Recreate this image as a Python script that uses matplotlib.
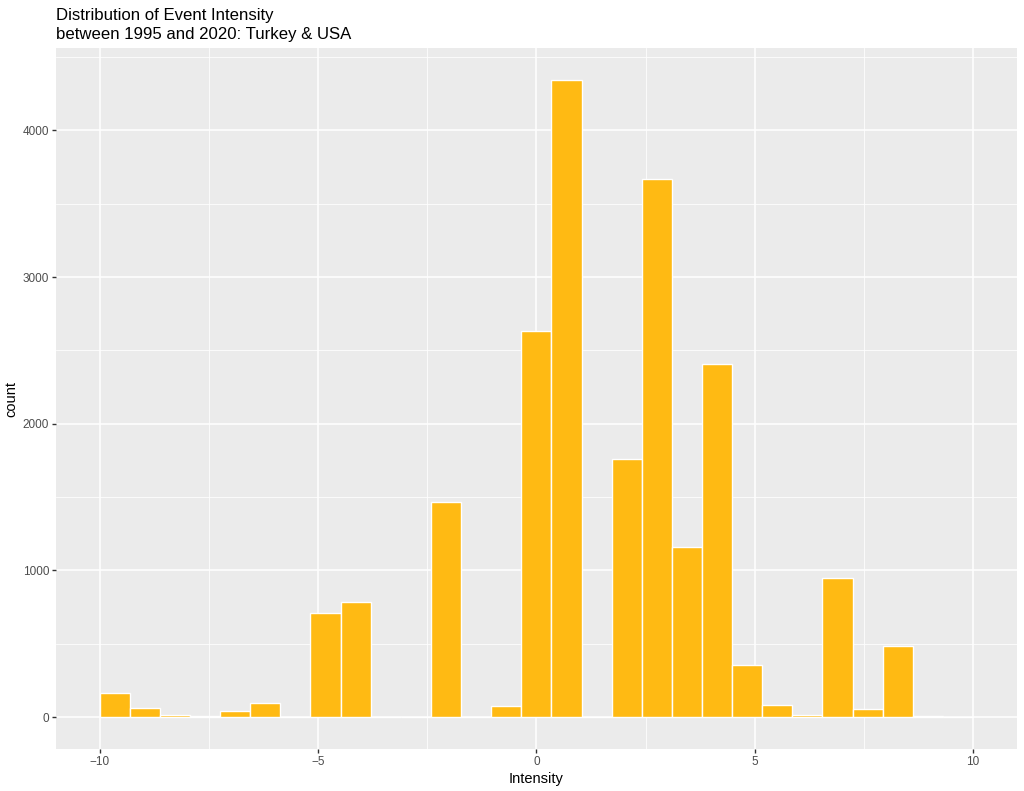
import numpy as np
import matplotlib
matplotlib.use("Agg")
import matplotlib.pyplot as plt

# histogram counts, 29 bins from -10 to 10
x_min = -10
x_max = 10
counts = [166, 59, 12, 7, 43, 98, 4, 712, 784, 0, 0, 1466, 0, 75, 2631,
          4342, 0, 1763, 3670, 1161, 2404, 357, 80, 17, 946, 57, 482, 10, 0]

x_ticks = [-10, -5, 0, 5, 10]
y_ticks = [0, 1000, 2000, 3000, 4000]

plt.rcParams['font.family'] = ['Liberation Sans', 'DejaVu Sans']

n_bins = len(counts)
edges = np.linspace(x_min, x_max, n_bins + 1)
width = edges[1] - edges[0]

fig = plt.figure(figsize=(10.24, 7.91), dpi=100)
ax = fig.add_axes([0.0547, 0.0531, 0.9382, 0.8858])
ax.set_facecolor('#EBEBEB')

# grid ggplot style
for xm in np.arange(-7.5, 10, 5):
    ax.axvline(xm, color='white', lw=0.55, zorder=0)
for ym in np.arange(500, 4600, 1000):
    ax.axhline(ym, color='white', lw=0.55, zorder=0)
for xt in x_ticks:
    ax.axvline(xt, color='white', lw=1.1, zorder=0)
for yt in y_ticks:
    ax.axhline(yt, color='white', lw=1.1, zorder=0)

ax.bar(edges[:-1], counts, width=width, align='edge',
       color='#FFBA13', edgecolor='white', linewidth=1.0, zorder=2)

ymax = max(counts)
ax.set_xlim(x_min - 0.05 * (x_max - x_min), x_max + 0.05 * (x_max - x_min))
ax.set_ylim(-0.05 * ymax, 1.05 * ymax)

ax.set_xticks(x_ticks)
ax.set_xticklabels(['\u221210', '\u22125', '0', '5', '10'])
ax.set_yticks(y_ticks)
ax.tick_params(axis='both', length=3, width=1, color='#333333',
               labelcolor='#4D4D4D', labelsize=8.5, pad=2)
for s in ax.spines.values():
    s.set_visible(False)

ax.set_xlabel('Intensity', fontsize=10.5, color='black', labelpad=3)
ax.set_ylabel('count', fontsize=10.5, color='black', labelpad=3)
ax.set_title('Distribution of Event Intensity\nbetween 1995 and 2020: Turkey & USA',
             loc='left', fontsize=12.1, color='black', pad=7, linespacing=1.3)

fig.savefig('out.png', dpi=100)
